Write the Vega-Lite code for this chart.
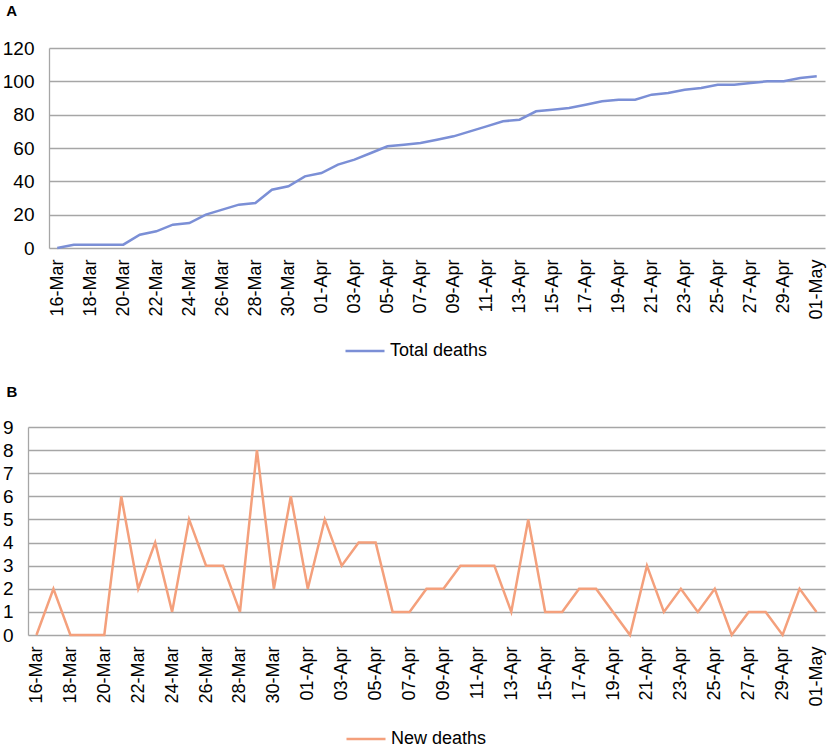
{
  "$schema": "https://vega.github.io/schema/vega-lite/v6.json",
  "background": "white",
  "padding": {"left": 2, "top": 4, "right": 0, "bottom": 0},
  "config": {
    "font": "Liberation Sans",
    "view": {"stroke": null},
    "axis": {"labelFont": "Liberation Sans", "labelColor": "#000000", "labelFontSize": 19, "ticks": false, "title": null, "gridColor": "#a6a6a6", "gridWidth": 1.3, "domainColor": "#a6a6a6", "domainWidth": 1.3},
    "axisX": {"labelAngle": -90, "grid": false, "domain": false, "labelPadding": 11, "labelFontSize": 18},
    "legend": {"labelFont": "Liberation Sans", "labelFontSize": 18, "labelColor": "#000000", "symbolType": "stroke", "symbolSize": 1521, "symbolStrokeWidth": 2.5, "title": null}
  },
  "data": {
    "values": [
      {"date": "16-Mar", "total": 0, "new": 0},
      {"date": "17-Mar", "total": 2, "new": 2},
      {"date": "18-Mar", "total": 2, "new": 0},
      {"date": "19-Mar", "total": 2, "new": 0},
      {"date": "20-Mar", "total": 2, "new": 0},
      {"date": "21-Mar", "total": 8, "new": 6},
      {"date": "22-Mar", "total": 10, "new": 2},
      {"date": "23-Mar", "total": 14, "new": 4},
      {"date": "24-Mar", "total": 15, "new": 1},
      {"date": "25-Mar", "total": 20, "new": 5},
      {"date": "26-Mar", "total": 23, "new": 3},
      {"date": "27-Mar", "total": 26, "new": 3},
      {"date": "28-Mar", "total": 27, "new": 1},
      {"date": "29-Mar", "total": 35, "new": 8},
      {"date": "30-Mar", "total": 37, "new": 2},
      {"date": "31-Mar", "total": 43, "new": 6},
      {"date": "01-Apr", "total": 45, "new": 2},
      {"date": "02-Apr", "total": 50, "new": 5},
      {"date": "03-Apr", "total": 53, "new": 3},
      {"date": "04-Apr", "total": 57, "new": 4},
      {"date": "05-Apr", "total": 61, "new": 4},
      {"date": "06-Apr", "total": 62, "new": 1},
      {"date": "07-Apr", "total": 63, "new": 1},
      {"date": "08-Apr", "total": 65, "new": 2},
      {"date": "09-Apr", "total": 67, "new": 2},
      {"date": "10-Apr", "total": 70, "new": 3},
      {"date": "11-Apr", "total": 73, "new": 3},
      {"date": "12-Apr", "total": 76, "new": 3},
      {"date": "13-Apr", "total": 77, "new": 1},
      {"date": "14-Apr", "total": 82, "new": 5},
      {"date": "15-Apr", "total": 83, "new": 1},
      {"date": "16-Apr", "total": 84, "new": 1},
      {"date": "17-Apr", "total": 86, "new": 2},
      {"date": "18-Apr", "total": 88, "new": 2},
      {"date": "19-Apr", "total": 89, "new": 1},
      {"date": "20-Apr", "total": 89, "new": 0},
      {"date": "21-Apr", "total": 92, "new": 3},
      {"date": "22-Apr", "total": 93, "new": 1},
      {"date": "23-Apr", "total": 95, "new": 2},
      {"date": "24-Apr", "total": 96, "new": 1},
      {"date": "25-Apr", "total": 98, "new": 2},
      {"date": "26-Apr", "total": 98, "new": 0},
      {"date": "27-Apr", "total": 99, "new": 1},
      {"date": "28-Apr", "total": 100, "new": 1},
      {"date": "29-Apr", "total": 100, "new": 0},
      {"date": "30-Apr", "total": 102, "new": 2},
      {"date": "01-May", "total": 103, "new": 1}
    ]
  },
  "vconcat": [
    {
      "width": 776,
      "height": 200,
      "title": {"text": "A", "anchor": "start", "frame": "bounds", "fontSize": 15, "fontWeight": "bold", "offset": 20, "dx": 4},
      "mark": {"type": "line", "strokeWidth": 2.5},
      "encoding": {
        "x": {"field": "date", "type": "ordinal", "sort": null, "scale": {"padding": 0.5},
          "axis": {"values": ["16-Mar","18-Mar","20-Mar","22-Mar","24-Mar","26-Mar","28-Mar","30-Mar","01-Apr","03-Apr","05-Apr","07-Apr","09-Apr","11-Apr","13-Apr","15-Apr","17-Apr","19-Apr","21-Apr","23-Apr","25-Apr","27-Apr","29-Apr","01-May"]}},
        "y": {"field": "total", "type": "quantitative", "scale": {"domain": [0, 120]}, "axis": {"values": [0, 20, 40, 60, 80, 100, 120], "labelPadding": 15}},
        "color": {"datum": "Total deaths", "scale": {"domain": ["Total deaths"], "range": ["#7b8fd6"]},
          "legend": {"orient": "none", "legendX": 295, "legendY": 282, "direction": "horizontal"}}
      }
    },
    {
      "width": 776,
      "height": 208,
      "title": {"text": "B", "anchor": "start", "frame": "bounds", "fontSize": 15, "fontWeight": "bold", "offset": 18, "dx": 4},
      "mark": {"type": "line", "strokeWidth": 2.5},
      "encoding": {
        "x": {"field": "date", "type": "ordinal", "sort": null, "scale": {"padding": 0.5, "range": [-21, 776]},
          "axis": {"values": ["16-Mar","18-Mar","20-Mar","22-Mar","24-Mar","26-Mar","28-Mar","30-Mar","01-Apr","03-Apr","05-Apr","07-Apr","09-Apr","11-Apr","13-Apr","15-Apr","17-Apr","19-Apr","21-Apr","23-Apr","25-Apr","27-Apr","29-Apr","01-May"]}},
        "y": {"field": "new", "type": "quantitative", "scale": {"domain": [0, 9]}, "axis": {"values": [0, 1, 2, 3, 4, 5, 6, 7, 8, 9], "labelPadding": 15, "offset": 21}},
        "color": {"datum": "New deaths", "scale": {"domain": ["New deaths"], "range": ["#f4a07c"]},
          "legend": {"orient": "none", "legendX": 296, "legendY": 291, "direction": "horizontal"}}
      }
    }
  ],
  "spacing": 25,
  "resolve": {"scale": {"color": "independent", "x": "independent", "y": "independent"}, "legend": {"color": "independent"}}
}
